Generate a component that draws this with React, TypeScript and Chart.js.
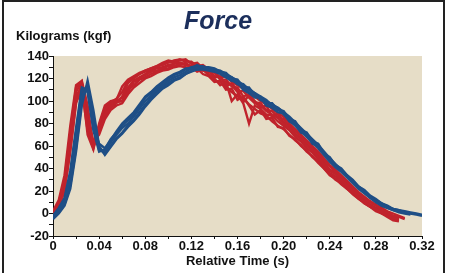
import React, { useEffect, useRef } from "react";
import { Chart, registerables } from "chart.js";

Chart.register(...registerables);

// Relative time (s), 0 .. 0.32 every 0.005
const T = [
  0, 0.005, 0.01, 0.015, 0.02, 0.025, 0.03, 0.035, 0.04, 0.045,
  0.05, 0.055, 0.06, 0.065, 0.07, 0.075, 0.08, 0.085, 0.09, 0.095,
  0.1, 0.105, 0.11, 0.115, 0.12, 0.125, 0.13, 0.135, 0.14, 0.145,
  0.15, 0.155, 0.16, 0.165, 0.17, 0.175, 0.18, 0.185, 0.19, 0.195,
  0.2, 0.205, 0.21, 0.215, 0.22, 0.225, 0.23, 0.235, 0.24, 0.245,
  0.25, 0.255, 0.26, 0.265, 0.27, 0.275, 0.28, 0.285, 0.29, 0.295,
  0.3, 0.305, 0.31, 0.315, 0.32,
];

// Red trials (kgf)
const red1 = [
  1, 10, 30, 72, 112, 116, 70, 57, 80, 96,
  100, 101, 113, 119, 122, 125, 127, 129, 131, 132,
  134, 136, 137, 135, 135, 131, 130, 127, 122, 121,
  116, 114, 108, 109, 103, 98, 96, 91, 88, 85,
  80, 76, 70, 66, 60, 56, 50, 44, 38, 35,
  30, 25, 20, 15, 11, 7, 4, 1, -2, -4,
  -5, null, null, null, null,
];
const red2 = [
  -3, 5, 20, 55, 98, 113, 82, 62, 74, 88,
  95, 99, 100, 108, 117, 120, 123, 126, 127, 129,
  131, 131, 133, 132, 130, 126, 128, 124, 120, 114,
  117, 100, 106, 98, 80, 96, 93, 88, 87, 82,
  78, 74, 68, 64, 58, 54, 48, 42, 36, 33,
  28, 24, 18, 14, 9, 6, 2, 0, -3, -6,
  -7, null, null, null, null,
];
const red3 = [
  2, 12, 34, 78, 114, 118, 96, 60, 72, 86,
  94, 98, 104, 116, 120, 124, 126, 128, 130, 133,
  135, 134, 136, 137, 133, 134, 129, 126, 125, 119,
  119, 113, 112, 104, 106, 99, 98, 92, 91, 86,
  84, 77, 73, 69, 63, 58, 53, 48, 42, 37,
  33, 28, 23, 18, 14, 10, 7, 3, 1, -2,
  -3, -5, null, null, null,
];
const red4 = [
  -1, 7, 24, 62, 106, 110, 74, 58, 78, 92,
  98, 100, 103, 112, 118, 121, 124, 127, 129, 130,
  132, 133, 134, 133, 131, 132, 127, 128, 121, 122,
  113, 116, 109, 99, 105, 100, 94, 96, 86, 89,
  81, 79, 71, 67, 61, 58, 51, 46, 39, 36,
  31, 27, 21, 16, 12, 8, 5, 2, 0, -3,
  -4, null, null, null, null,
];
const red5 = [
  0, 8, 26, 64, 102, 115, 80, 59, 76, 90,
  96, 99, 100, 110, 114, 119, 121, 124, 126, 128,
  129, 131, 132, 134, 130, 129, 128, 123, 118, 117,
  112, 108, 104, 102, 97, 93, 89, 87, 82, 78,
  75, 70, 65, 61, 55, 51, 45, 40, 34, 31,
  26, 22, 17, 13, 9, 6, 3, 0, -2, -4,
  null, null, null, null, null,
];
const red6 = [
  -2, 6, 22, 58, 100, 108, 86, 64, 70, 84,
  92, 96, 98, 106, 112, 116, 120, 122, 125, 127,
  128, 130, 131, 130, 128, 129, 124, 122, 117, 118,
  110, 111, 101, 104, 96, 88, 92, 84, 85, 77,
  76, 69, 66, 60, 56, 50, 46, 40, 35, 30,
  27, 22, 18, 13, 10, 6, 4, 1, -1, -5,
  -6, null, null, null, null,
];
const red7 = [
  1, 9, 27, 66, 108, 117, 88, 60, 78, 94,
  99, 102, 108, 118, 121, 124, 127, 129, 131, 134,
  136, 135, 137, 136, 134, 131, 132, 128, 126, 121,
  122, 117, 114, 111, 107, 104, 100, 97, 93, 89,
  86, 80, 75, 70, 65, 60, 55, 49, 43, 39,
  34, 29, 24, 19, 15, 11, 8, 5, 2, 0,
  -2, -4, null, null, null,
];

// Blue trials (kgf)
const blue1 = [
  -3, 3, 10, 30, 65, 105, 112, 80, 56, 55,
  63, 70, 76, 80, 86, 93, 100, 105, 110, 114,
  118, 121, 123, 126, 129, 129, 130, 128, 127, 125,
  122, 119, 115, 113, 108, 106, 101, 99, 95, 93,
  88, 83, 78, 73, 68, 63, 58, 52, 46, 41,
  37, 32, 27, 22, 18, 14, 10, 7, 5, 3,
  2, 1, 0, null, null,
];
const blue2 = [
  -4, 1, 8, 25, 58, 100, 115, 86, 58, 53,
  60, 67, 72, 78, 83, 90, 97, 103, 108, 112,
  116, 119, 121, 124, 127, 128, 128, 127, 126, 124,
  121, 118, 117, 110, 107, 103, 103, 96, 94, 90,
  89, 82, 79, 72, 70, 62, 60, 53, 48, 42,
  38, 33, 28, 23, 19, 15, 11, 8, 6, 4,
  3, 2, 1, 0, -1,
];
const blue3 = [
  -2, 4, 12, 35, 72, 110, 108, 74, 55, 57,
  66, 72, 78, 83, 88, 95, 103, 107, 112, 116,
  120, 123, 125, 128, 130, 131, 131, 129, 128, 126,
  123, 121, 116, 115, 110, 107, 102, 100, 97, 94,
  90, 85, 80, 75, 70, 65, 60, 54, 47, 42,
  38, 33, 28, 23, 19, 14, 11, 7, 5, 3,
  1, 0, -1, null, null,
];
const blue4 = [
  -5, 0, 7, 22, 55, 96, 118, 92, 60, 52,
  59, 66, 71, 77, 82, 88, 95, 101, 106, 111,
  114, 118, 120, 124, 126, 128, 129, 129, 128, 127,
  124, 121, 118, 114, 111, 107, 104, 101, 96, 94,
  90, 86, 81, 76, 71, 66, 61, 55, 49, 44,
  39, 34, 29, 24, 20, 15, 12, 9, 6, 4,
  2, 1, 0, -1, -2,
];
const blue5 = [
  -2, 5, 14, 38, 76, 112, 110, 78, 62, 58,
  65, 73, 80, 85, 90, 97, 104, 108, 113, 117,
  121, 124, 126, 129, 129, 132, 130, 130, 129, 126,
  125, 120, 119, 112, 112, 105, 104, 98, 98, 92,
  91, 84, 82, 74, 72, 64, 62, 53, 50, 43,
  40, 34, 30, 24, 21, 16, 13, 9, 7, 4,
  3, 1, null, null, null,
];

const redSeries = [red1, red2, red3, red4, red5, red6, red7];
const blueSeries = [blue1, blue2, blue3, blue4, blue5];

const RED = "#c0232c";
const BLUE = "#1f4f86";
const FONT = "'Liberation Sans', Arial, sans-serif";

const toPoints = (vals: (number | null)[]) =>
  T.map((t, i) => ({ x: t, y: vals[i] }));

const decorPlugin = {
  id: "decor",
  beforeDraw(chart: any) {
    const { ctx, chartArea } = chart;
    ctx.save();
    ctx.fillStyle = "#ffffff";
    ctx.fillRect(0, 0, chart.width, chart.height);
    ctx.fillStyle = "#e6ddc7";
    ctx.fillRect(chartArea.left, chartArea.top, chartArea.right - chartArea.left, chartArea.bottom - chartArea.top);
    ctx.restore();
  },
  afterDraw(chart: any) {
    const { ctx } = chart;
    ctx.save();
    ctx.fillStyle = "#1c2f5c";
    ctx.font = `italic bold 25px ${FONT}`;
    ctx.textAlign = "center";
    ctx.textBaseline = "middle";
    ctx.fillText("Force", 218, 22);
    ctx.fillStyle = "#111";
    ctx.font = `bold 13px ${FONT}`;
    ctx.textAlign = "left";
    ctx.fillText("Kilograms (kgf)", 16, 36);
    ctx.strokeStyle = "#222";
    ctx.lineWidth = 2;
    ctx.strokeRect(3, 1, 441, 290);
    ctx.restore();
  },
};

export default function App() {
  const ref = useRef<HTMLCanvasElement>(null);
  useEffect(() => {
    document.body.style.margin = "0";
    const datasets: any[] = [];
    blueSeries.forEach((s) =>
      datasets.push({ data: toPoints(s), borderColor: BLUE, borderWidth: 2.4, pointRadius: 0, tension: 0, spanGaps: false })
    );
    redSeries.forEach((s) =>
      datasets.push({ data: toPoints(s), borderColor: RED, borderWidth: 2.4, pointRadius: 0, tension: 0, spanGaps: false })
    );
    const chart = new Chart(ref.current!, {
      type: "line",
      data: { datasets },
      options: {
        animation: false,
        responsive: false,
        devicePixelRatio: 1,
        layout: { padding: { left: 0, right: 30, top: 56, bottom: 0 } },
        plugins: { legend: { display: false }, tooltip: { enabled: false } },
        scales: {
          x: {
            type: "linear",
            min: 0,
            max: 0.32,
            afterFit: (s: any) => { s.height = 37; },
            border: { color: "#111", width: 1 },
            grid: { drawOnChartArea: false, drawTicks: true, tickLength: 3, color: "#111" },
            ticks: {
              stepSize: 0.02,
              autoSkip: false,
              maxRotation: 0,
              padding: 0,
              color: "#111",
              font: { family: FONT, size: 13, weight: "bold" },
              callback: (v: any) => {
                const k = Math.round(v * 100);
                if (k % 4 !== 0) return "";
                return k === 0 ? "0" : (k / 100).toFixed(2);
              },
            },
            title: { display: true, text: "Relative Time (s)", color: "#111", font: { family: FONT, size: 13, weight: "bold" } },
          },
          y: {
            min: -20,
            max: 140,
            afterFit: (s: any) => { s.width = 53; },
            border: { color: "#111", width: 1 },
            grid: { drawOnChartArea: false, drawTicks: true, tickLength: 4, color: "#111" },
            ticks: {
              stepSize: 10,
              autoSkip: false,
              padding: 0,
              color: "#111",
              font: { family: FONT, size: 13, weight: "bold" },
              callback: (v: any) => (Math.round(v) % 20 === 0 ? String(v) : ""),
            },
          },
        },
      },
      plugins: [decorPlugin],
    });
    return () => chart.destroy();
  }, []);
  return (
    <div style={{ position: "absolute", left: 0, top: 0, width: 452, height: 273 }}>
      <canvas ref={ref} width={452} height={273} style={{ display: "block", width: 452, height: 273 }} />
    </div>
  );
}
